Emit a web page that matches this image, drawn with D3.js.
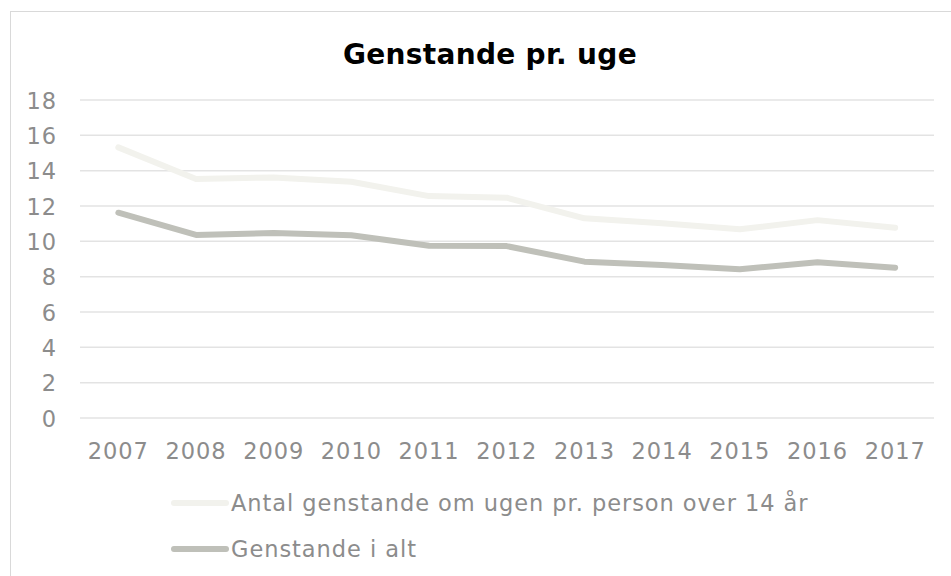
<!DOCTYPE html>
<html><head><meta charset="utf-8">
<script src="https://cdn.jsdelivr.net/npm/d3@7/dist/d3.min.js"></script>
<style>body{margin:0;background:#fff;} svg{display:block;}</style>
</head><body>
<svg id="c" width="951" height="576"></svg>
<script>
const years = ["2007","2008","2009","2010","2011","2012","2013","2014","2015","2016","2017"];
const antal = [15.32,13.53,13.62,13.37,12.56,12.47,11.30,11.02,10.68,11.20,10.77];
const iAlt = [11.62,10.36,10.47,10.34,9.75,9.73,8.85,8.66,8.42,8.81,8.51];
const yTicks = [0,2,4,6,8,10,12,14,16,18];
const seriesNames = ["Antal genstande om ugen pr. person over 14 år","Genstande i alt"];
const title = "Genstande pr. uge";

const svg = d3.select("#c");
const font = "Verdana, 'DejaVu Sans', sans-serif";
const textCol = "#8c8c8c";
const fs = 22.5, ls = "0.95px";

svg.append("rect").attr("x",10.5).attr("y",11.5).attr("width",960).attr("height",600)
  .attr("fill","#fff").attr("stroke","#d9d9d9").attr("stroke-width",1);

svg.append("text").attr("x",490).attr("y",63.5).attr("text-anchor","middle")
  .attr("font-family",font).attr("font-weight","bold").attr("font-size",28)
  .attr("letter-spacing","0.3px").attr("fill","#000").text(title);

const x = d3.scaleBand().domain(years).range([79.5,934]);
const y = d3.scaleLinear().domain([0,18]).range([418,100]);

const grid = svg.append("g");
grid.selectAll("line").data(yTicks).join("line")
  .attr("x1",80).attr("x2",934).attr("y1",d=>y(d)).attr("y2",d=>y(d))
  .attr("stroke","#e3e3e3").attr("stroke-width",1.5);

const yAxis = svg.append("g").attr("transform","translate(57,0)")
  .call(d3.axisLeft(y).tickValues(yTicks).tickSize(0).tickPadding(0));
yAxis.select(".domain").remove();
yAxis.selectAll("text").attr("font-family",font).attr("font-size",fs).attr("letter-spacing",ls)
  .attr("fill",textCol).attr("dy","0.36em");

const xAxis = svg.append("g").attr("transform","translate(0,418)")
  .call(d3.axisBottom(x).tickSize(0).tickPadding(25));
xAxis.select(".domain").remove();
xAxis.selectAll("text").attr("font-family",font).attr("font-size",fs).attr("letter-spacing",ls).attr("fill",textCol);

const colors = ["#f2f2ed","#bfc0b9"];
const line = d3.line().x((d,i)=>x(years[i])+x.bandwidth()/2).y(d=>y(d));
[antal,iAlt].forEach((s,k)=>{
  svg.append("path").datum(s).attr("d",line).attr("fill","none")
    .attr("stroke",colors[k]).attr("stroke-width",6).attr("stroke-linecap","round").attr("stroke-linejoin","round");
});

const leg = svg.append("g");
seriesNames.forEach((n,k)=>{
  const yy = 503 + k*46;
  leg.append("line").attr("x1",174).attr("x2",226).attr("y1",yy).attr("y2",yy)
    .attr("stroke",colors[k]).attr("stroke-width",6).attr("stroke-linecap","round");
  leg.append("text").attr("x",231).attr("y",yy).attr("dy","0.36em")
    .attr("font-family",font).attr("font-size",fs).attr("letter-spacing",ls).attr("fill",textCol).text(n);
});
</script>
</body></html>
